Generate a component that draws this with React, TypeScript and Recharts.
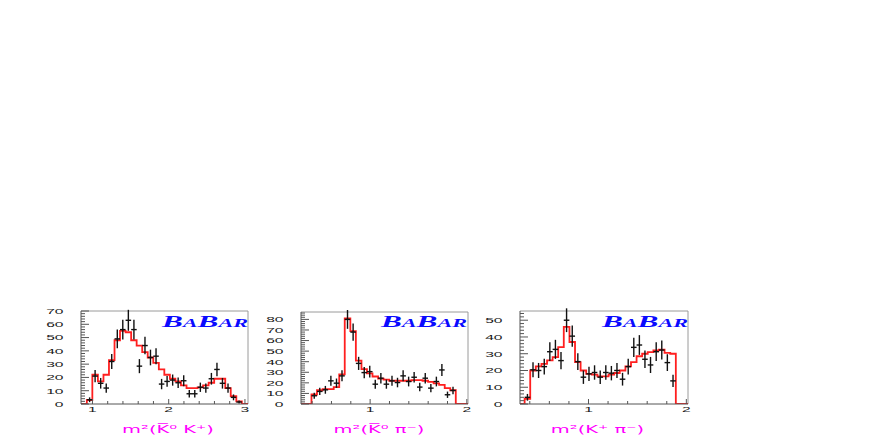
import React from 'react';
import { ComposedChart, Line, Scatter, XAxis, YAxis, ErrorBar, ReferenceLine } from 'recharts';

// panel 1 : m2(K0bar K+)
const kkCenters = [0.963, 1.035, 1.108, 1.181, 1.253, 1.326, 1.398, 1.471, 1.544, 1.616, 1.689, 1.761, 1.834, 1.907, 1.979, 2.052, 2.124, 2.197, 2.27, 2.342, 2.415, 2.487, 2.56, 2.633, 2.705, 2.778, 2.85, 2.923];
const kkCounts = [3.2, 21, 15.6, 12, 32, 49, 56, 63, 56, 28.5, 44, 35, 36, 15, 17, 18, 16, 17.5, 7.7, 7.7, 12.6, 12, 19, 26, 15.6, 12, 5, 1.5];
const kkErrors = [1.8, 4.6, 4.0, 3.5, 5.7, 7.0, 7.5, 7.9, 7.5, 5.3, 6.6, 5.9, 6.0, 3.9, 4.1, 4.2, 4.0, 4.2, 2.8, 2.8, 3.5, 3.5, 4.4, 5.1, 4.0, 3.5, 2.2, 1.2];
const kkFit = [3, 22, 17, 22, 33, 48, 55, 54, 48, 44, 39, 35, 31, 26, 22, 19, 17, 14, 12, 12, 12.5, 14, 16, 19, 19, 12, 6, 2];
const kkBinWidth = 0.0726;

// panel 2 : m2(K0bar pi-)
const kpiCenters = [0.422, 0.479, 0.537, 0.594, 0.652, 0.709, 0.766, 0.824, 0.881, 0.939, 0.996, 1.053, 1.111, 1.168, 1.226, 1.283, 1.341, 1.398, 1.455, 1.513, 1.57, 1.628, 1.685, 1.742, 1.8, 1.857];
const kpiCounts = [7.8, 11.9, 13.4, 21.9, 19.7, 26.6, 80, 68, 38.4, 29.7, 30.6, 18.75, 24.4, 18.75, 21.9, 20.3, 26.6, 21.25, 25.3, 16, 24.4, 15, 21.25, 32.2, 8.75, 12.8];
const kpiErrors = [2.8, 3.4, 3.7, 4.7, 4.4, 5.2, 8.9, 8.2, 6.2, 5.4, 5.5, 4.3, 4.9, 4.3, 4.7, 4.5, 5.2, 4.6, 5.0, 4.0, 4.9, 3.9, 4.6, 5.7, 3.0, 3.6];
const kpiFit = [9, 13, 14, 14, 16, 28, 81, 69, 41, 33, 29, 26, 24, 23, 22, 22, 22, 22, 22.5, 22.5, 22, 21, 19.5, 18, 15, 13];
const kpiBinWidth = 0.0574;

// panel 3 : m2(K+ pi-)
const kppCenters = [0.376, 0.433, 0.49, 0.548, 0.605, 0.662, 0.719, 0.776, 0.834, 0.891, 0.948, 1.005, 1.062, 1.12, 1.177, 1.234, 1.291, 1.348, 1.406, 1.463, 1.52, 1.577, 1.634, 1.692, 1.749, 1.806, 1.864];
const kppCounts = [4, 20.4, 20, 22.3, 31.2, 32.6, 25.9, 50, 40.5, 25.3, 16, 18, 18.8, 16, 18.8, 18.4, 20, 14.8, 22.3, 33.8, 35.2, 26.7, 23.3, 31.2, 32.2, 24.7, 13.8];
const kppErrors = [2.0, 4.5, 4.5, 4.7, 5.6, 5.7, 5.1, 7.1, 6.4, 5.0, 4.0, 4.2, 4.3, 4.0, 4.3, 4.3, 4.5, 3.8, 4.7, 5.8, 5.9, 5.2, 4.8, 5.6, 5.7, 5.0, 3.7];
const kppFit = [3, 20, 22.5, 24, 26, 28, 34, 46, 37, 25, 20, 18, 17.5, 16.5, 16.5, 17.5, 18.5, 20, 22.5, 25, 28.5, 30, 31, 32, 32.5, 30.5, 30];
const kppBinWidth = 0.0572;

// axis labels
const kkYLabels = [0, 10, 20, 30, 40, 50, 60, 70];
const kpiYLabels = [0, 10, 20, 30, 40, 50, 60, 70, 80];
const kppYLabels = [0, 10, 20, 30, 40, 50];
const kkXLabels = [1, 2, 3];
const kpiXLabels = [1, 2];
const kppXLabels = [1, 2];

const TICK_FONT = '"Liberation Sans", Arial, sans-serif';
const AXIS = '#555';
const FRAME = '#9a9a9a';

const steps = (lo: number, hi: number, step: number) => {
  const out: number[] = [];
  const start = Math.ceil(lo / step - 1e-6);
  for (let i = start; i * step <= hi + 1e-6; i++) out.push(+(i * step).toFixed(4));
  return out;
};

const isIn = (v: number, list: number[]) => list.some((l) => Math.abs(l - v) < 1e-6);

type PanelProps = {
  plot: { left: number; top: number; right: number; bottom: number };
  xDomain: [number, number];
  yDomain: [number, number];
  centers: number[];
  counts: number[];
  errors: number[];
  fit: number[];
  binWidth: number;
  xLabels: number[];
  yLabels: number[];
};

const Panel: React.FC<PanelProps> = ({ plot, xDomain, yDomain, centers, counts, errors, fit, binWidth, xLabels, yLabels }) => {
  const yAxisW = 50;
  const xAxisH = 22;
  const mTop = 10;
  const mRight = 10;
  const width = plot.right - plot.left + yAxisW + mRight;
  const height = plot.bottom - plot.top + mTop + xAxisH;

  const points = centers.map((x, i) => ({ x, y: counts[i], ey: errors[i], ex: binWidth / 2 }));
  const fitRows = [
    { x: xDomain[0], y: 0 },
    ...centers.map((c, i) => ({ x: c - binWidth / 2, y: fit[i] })),
    { x: centers[centers.length - 1] + binWidth / 2, y: 0 },
    { x: xDomain[1], y: 0 },
  ];

  const yTicks = steps(yDomain[0], yDomain[1], 2);
  const xTicks = steps(xDomain[0], xDomain[1], 0.2);

  const renderYTick = (p: any) => {
    const v = p.payload.value;
    const major = isIn(v, yLabels);
    return (
      <g>
        <line x1={p.x} y1={p.y} x2={p.x + (major ? 8 : 4)} y2={p.y} stroke={AXIS} strokeWidth={1} />
        {major && (
          <text transform={`translate(${p.x - 17.5},${p.y + 2.8}) scale(1.95,1)`} textAnchor="end" fontSize={8} fontFamily={TICK_FONT} fill="#1a1a1a">
            {v}
          </text>
        )}
      </g>
    );
  };

  const renderXTick = (p: any) => {
    const v = p.payload.value;
    const major = isIn(v, xLabels);
    return (
      <g>
        <line x1={p.x} y1={p.y} x2={p.x} y2={p.y - (major ? 5 : 3)} stroke={AXIS} strokeWidth={1} />
        {major && (
          <text transform={`translate(${p.x},${p.y + 8}) scale(1.95,1)`} textAnchor="middle" fontSize={8} fontFamily={TICK_FONT} fill="#1a1a1a">
            {v}
          </text>
        )}
      </g>
    );
  };

  return (
    <div style={{ position: 'absolute', left: plot.left - yAxisW, top: plot.top - mTop, width, height }}>
      <ComposedChart width={width} height={height} margin={{ top: mTop, right: mRight, bottom: 0, left: 0 }}>
        <XAxis
          type="number"
          dataKey="x"
          domain={xDomain}
          allowDataOverflow
          ticks={xTicks}
          interval={0}
          tickSize={0}
          tickMargin={0}
          tickLine={false}
          tick={renderXTick}
          height={xAxisH}
          axisLine={{ stroke: AXIS }}
        />
        <YAxis
          type="number"
          domain={yDomain}
          allowDataOverflow
          ticks={yTicks}
          interval={0}
          tickSize={0}
          tickMargin={0}
          tickLine={false}
          tick={renderYTick}
          width={yAxisW}
          axisLine={{ stroke: AXIS }}
        />
        <ReferenceLine y={yDomain[1]} stroke={FRAME} strokeWidth={1} />
        <ReferenceLine x={xDomain[1]} stroke={FRAME} strokeWidth={1} />
        <Line
          data={fitRows}
          dataKey="y"
          type="stepAfter"
          stroke="#ff1f1f"
          strokeWidth={1.8}
          dot={false}
          activeDot={false}
          isAnimationActive={false}
        />
        <Scatter data={points} dataKey="y" shape={() => <g />} isAnimationActive={false}>
          <ErrorBar dataKey="ey" direction="y" width={0} stroke="#111" strokeWidth={1.4} isAnimationActive={false} />
          <ErrorBar dataKey="ex" direction="x" width={0} stroke="#111" strokeWidth={1.4} isAnimationActive={false} />
        </Scatter>
      </ComposedChart>
    </div>
  );
};

const TITLE_FONT = '"DejaVu Sans", sans-serif';

const Title: React.FC<{ x: number; text: string }> = ({ x, text }) => (
  <text transform={`translate(${x},433) scale(1.95,1)`} textAnchor="middle" fontSize={10} fontFamily={TITLE_FONT} fill="#ff00ff">
    {text}
  </text>
);

const Logo: React.FC<{ x: number }> = ({ x }) => (
  <text
    x={x}
    y={326.5}
    textLength={86}
    lengthAdjust="spacingAndGlyphs"
    fontFamily='"Liberation Serif", "Times New Roman", serif'
    fontStyle="italic"
    fontWeight="bold"
    fill="#0a0aff"
  >
    <tspan fontSize={17}>B</tspan>
    <tspan fontSize={12}>A</tspan>
    <tspan fontSize={17}>B</tspan>
    <tspan fontSize={12}>AR</tspan>
  </text>
);

export default function App() {
  return (
    <div style={{ position: 'absolute', left: 0, top: 0, width: 872, height: 436, background: '#fff', overflow: 'hidden' }}>
      <Panel
        plot={{ left: 81, top: 311, right: 248, bottom: 404 }}
        xDomain={[0.85, 3.04]}
        yDomain={[0, 70]}
        centers={kkCenters}
        counts={kkCounts}
        errors={kkErrors}
        fit={kkFit}
        binWidth={kkBinWidth}
        xLabels={kkXLabels}
        yLabels={kkYLabels}
      />
      <Panel
        plot={{ left: 301, top: 312, right: 468, bottom: 404 }}
        xDomain={[0.285, 2.012]}
        yDomain={[0, 87]}
        centers={kpiCenters}
        counts={kpiCounts}
        errors={kpiErrors}
        fit={kpiFit}
        binWidth={kpiBinWidth}
        xLabels={kpiXLabels}
        yLabels={kpiYLabels}
      />
      <Panel
        plot={{ left: 520, top: 311, right: 688, bottom: 404 }}
        xDomain={[0.3, 2.017]}
        yDomain={[0, 55.5]}
        centers={kppCenters}
        counts={kppCounts}
        errors={kppErrors}
        fit={kppFit}
        binWidth={kppBinWidth}
        xLabels={kppXLabels}
        yLabels={kppYLabels}
      />
      <svg width={872} height={436} style={{ position: 'absolute', left: 0, top: 0, pointerEvents: 'none' }}>
        <Title x={168} text={'m\u00b2(K\u0305\u2070 K\u207a)'} />
        <Title x={379} text={'m\u00b2(K\u0305\u2070 \u03c0\u207b)'} />
        <Title x={597.5} text={'m\u00b2(K\u207a \u03c0\u207b)'} />
        <Logo x={162} />
        <Logo x={381} />
        <Logo x={602} />
      </svg>
    </div>
  );
}
